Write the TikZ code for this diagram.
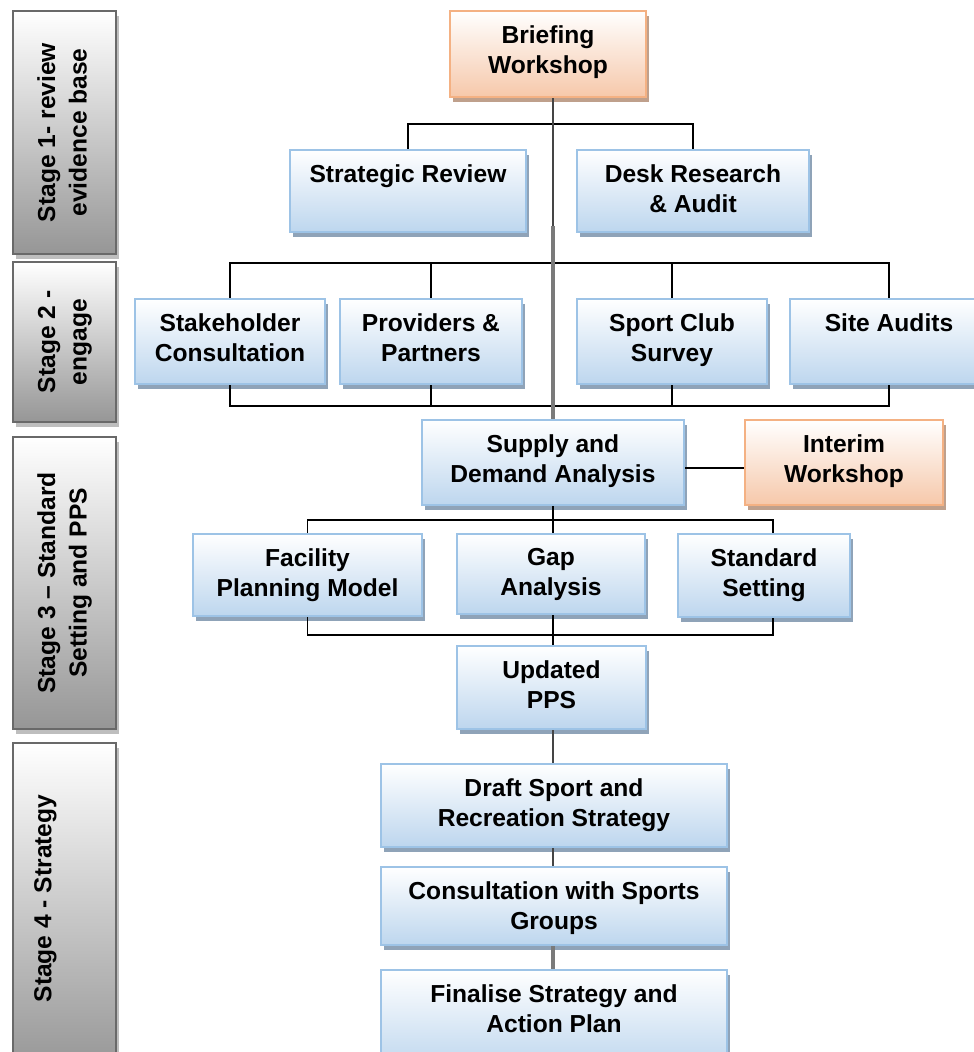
\documentclass[tikz,border=0pt]{standalone}
\usepackage{fontspec}
\setmainfont{Liberation Sans}
\usepackage{graphicx}
\usetikzlibrary{shadows}

\definecolor{boxedge}{RGB}{157,195,230}
\definecolor{boxfill}{RGB}{189,214,238}
\definecolor{boxshade}{RGB}{143,163,184}
\definecolor{orgedge}{RGB}{244,177,131}
\definecolor{orgfill}{RGB}{246,200,170}
\definecolor{orgshade}{RGB}{191,160,140}
\definecolor{stageedge}{RGB}{105,105,105}
\definecolor{stagefill}{RGB}{150,150,150}
\definecolor{stageshade}{RGB}{190,190,190}

\newcommand{\sidetext}[1]{\rotatebox{90}{\begin{tabular}{@{}c@{}}#1\end{tabular}}}

\tikzset{
  pxbox/.style n args={4}{minimum width={(#3-#1)*0.02cm}, minimum height={(#4-#2)*0.02cm},
    at={({(#1+#3)/2},{(#2+#4)/2})}},
  tile/.style n args={3}{draw=#1, line width=1.3pt, top color=white, bottom color=#2,
    drop shadow={shadow xshift=0.06cm, shadow yshift=-0.1cm, opacity=1, fill=#3}},
  bluebox/.style={tile={boxedge}{boxfill}{boxshade}},
  orangebox/.style={tile={orgedge}{orgfill}{orgshade}},
  stagefont/.style={font=\bfseries\fontsize{14}{18}\selectfont},
  stagebox/.style={tile={stageedge}{stagefill}{stageshade}, line width=1.5pt, stagefont},
  txt/.style={anchor=north, yshift=-0.19cm, align=center, font=\bfseries\fontsize{14}{17}\selectfont},
  link/.style={line width=1.1pt, black},
  spine/.style={line width=1.3pt, black!73},
  thickspine/.style={line width=2.1pt, black!52}
}

\begin{document}
\begin{tikzpicture}[x=0.02cm, y=-0.02cm]
  \useasboundingbox (0,0) rectangle (974,1052);
  \clip (0,0) rectangle (974,1052);

  % stages
  \node (s1) [stagebox, pxbox={13}{11}{116}{254}] {\sidetext{Stage 1- review\\evidence base}};
  \node (s2) [stagebox, pxbox={13}{262}{116}{422}] {\sidetext{Stage 2 -\\engage}};
  \node (s3) [stagebox, pxbox={13}{437}{116}{729}] {\sidetext{Stage 3 -- Standard\\Setting and PPS}};
  \node (s4) [stagebox, pxbox={13}{743}{116}{1070},
    label={[stagefont, xshift=-0.38cm, yshift=0.16cm]center:\rotatebox{90}{Stage 4 - Strategy}}] {};

  % stage 1
  \node (bw) [orangebox, pxbox={450}{11}{646}{97}, label={[txt]north:Briefing\\Workshop}] {};
  \node (sr) [bluebox, pxbox={290}{150}{526}{232}, label={[txt]north:Strategic Review}] {};
  \node (dr) [bluebox, pxbox={577}{150}{809}{232}, label={[txt]north:Desk Research\\\& Audit}] {};

  % stage 2
  \node (sh) [bluebox, pxbox={135}{299}{325}{384}, label={[txt]north:Stakeholder\\Consultation}] {};
  \node (pp) [bluebox, pxbox={340}{299}{522}{384}, label={[txt]north:Providers \&\\Partners}] {};
  \node (sp) [bluebox, pxbox={577}{299}{767}{384}, label={[txt]north:Sport Club\\Survey}] {};
  \node (sa) [bluebox, pxbox={790}{299}{988}{384}, label={[txt]north:Site Audits}] {};

  % stage 3
  \node (sd) [bluebox, pxbox={422}{420}{684}{505}, label={[txt]north:Supply and\\Demand Analysis}] {};
  \node (iw) [orangebox, pxbox={745}{420}{943}{505}, label={[txt]north:Interim\\Workshop}] {};
  \node (fp) [bluebox, pxbox={193}{534}{422}{616}, label={[txt]north:Facility\\Planning Model}] {};
  \node (ga) [bluebox, pxbox={457}{534}{645}{614}, label={[txt]north:Gap\\Analysis}] {};
  \node (ss) [bluebox, pxbox={678}{534}{850}{617}, label={[txt]north:Standard\\Setting}] {};
  \node (up) [bluebox, pxbox={457}{646}{646}{729}, label={[txt]north:Updated\\PPS}] {};

  % stage 4
  \node (ds) [bluebox, pxbox={381}{764}{727}{847}, label={[txt]north:Draft Sport and\\Recreation Strategy}] {};
  \node (cs) [bluebox, pxbox={381}{867}{727}{945}, label={[txt]north:Consultation with Sports\\Groups}] {};
  \node (fs) [bluebox, pxbox={381}{970}{727}{1070}, label={[txt]north:Finalise Strategy and\\Action Plan}] {};

  % buses
  \draw[link] (sr.north) -- ++(0,-25) -| (dr.north);
  \draw[link] (sh.north) -- ++(0,-35) -| (sa.north);
  \draw[link] (pp.north) -- ++(0,-35);
  \draw[link] (sp.north) -- ++(0,-35);
  \draw[link] (sh.south) -- ++(0,21) -| (sa.south);
  \draw[link] (pp.south) -- ++(0,21);
  \draw[link] (sp.south) -- ++(0,21);
  \draw[link] ([yshift=-0.11cm]sd.east) -- ([yshift=-0.11cm]iw.west);
  \draw[link] (fp.north) -- ++(0,-13) -| ([xshift=0.18cm]ss.north);
  \draw[link] (sd.south) -- (sd.south |- ga.north);
  \draw[link] (fp.south) -- ++(0,18) -| ([xshift=0.18cm]ss.south);
  \draw[link] (sd.south |- ga.south) -- (sd.south |- up.north);

  % spine
  \draw[spine] (sd.north |- bw.south) -- ++(0,128) coordinate (mid);
  \draw[thickspine] (mid) -- (sd.north);
  \draw[spine] (sd.south |- up.south) -- (sd.south |- ds.north);
  \draw[spine] (sd.south |- ds.south) -- (sd.south |- cs.north);
  \draw[thickspine] (sd.south |- cs.south) -- (sd.south |- fs.north);
\end{tikzpicture}
\end{document}
